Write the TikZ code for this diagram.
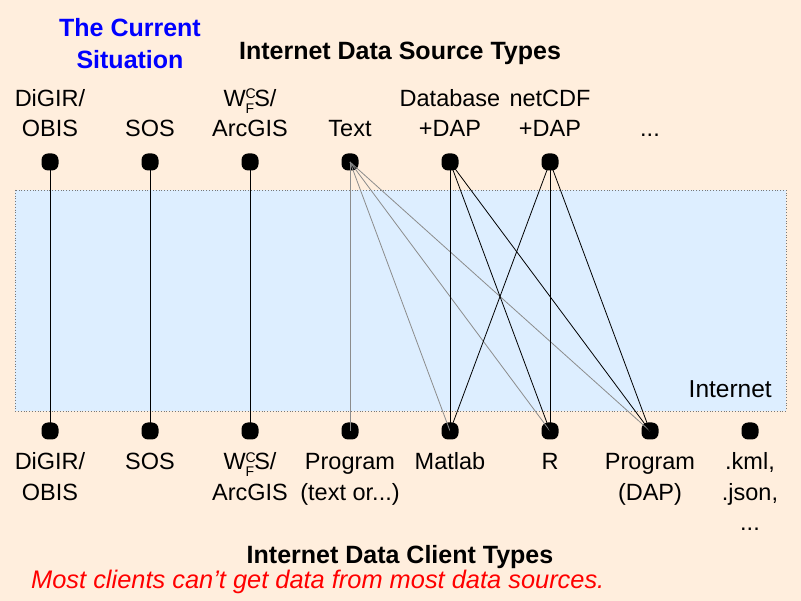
\documentclass[tikz,border=0pt]{standalone}
\usepackage{fontspec}
\setmainfont{Liberation Sans}
\definecolor{bgc}{RGB}{255,238,221}
\definecolor{bandc}{RGB}{221,238,255}
\definecolor{bandedge}{RGB}{120,120,120}
\definecolor{grayline}{RGB}{140,140,140}
\newcommand{\myfs}[2]{\fontsize{#1}{#2}\selectfont\setbox\strutbox\hbox{\vrule height 0.7\baselineskip depth 0.3\baselineskip width 0pt}}
\newcommand{\wcfs}{W\rlap{\raisebox{0.62ex}{\fontsize{14}{14}\selectfont C}}\raisebox{-0.55ex}{\fontsize{14}{14}\selectfont F}S/}
\begin{document}
\begin{tikzpicture}[x=1pt,y=-1pt,
  dot/.style={rectangle,rounded corners=6.5pt,fill=black,minimum size=17pt,inner sep=0pt},
  lab/.style={anchor=base,inner sep=0pt,font=\myfs{23.5}{30.5}},
  ttl/.style={anchor=base,inner sep=0pt,font=\myfs{25}{32}\bfseries},
  blk/.style={draw=black,line width=0.8pt},
  gry/.style={draw=grayline,line width=0.8pt}]
\fill[bgc] (0,0) rectangle (801,601);
\useasboundingbox (0,0) rectangle (801,601);
\filldraw[fill=bandc,draw=bandedge,dotted,line width=0.8pt] (15,190) rectangle (786,411);
% titles
\node[ttl,text=blue] (title) at (130,37) {\begin{tabular}[t]{@{}c@{}}The Current\\Situation\end{tabular}};
\node[ttl] (srctitle) at (400,60) {Internet Data Source Types};
\node[ttl] (clititle) at (400,563) {Internet Data Client Types};
\node[anchor=base west,inner sep=0pt,text=red,font=\myfs{25.4}{30}\itshape] (note) at (31,588) {Most clients can't get data from most data sources.};
\node[anchor=base east,inner sep=0pt,font=\myfs{24.5}{28}] (inet) at (772,398) {Internet};
% top labels
\node[lab] (tl1) at (50,137) {\begin{tabular}[b]{@{}c@{}}DiGIR/\\OBIS\end{tabular}};
\node[lab] (tl2) at (150,137) {SOS};
\node[lab] (tl3) at (250,137) {\begin{tabular}[b]{@{}c@{}}\wcfs\\ArcGIS\end{tabular}};
\node[lab] (tl4) at (350,137) {Text};
\node[lab] (tl5) at (450,137) {\begin{tabular}[b]{@{}c@{}}Database\\+DAP\end{tabular}};
\node[lab] (tl6) at (550,137) {\begin{tabular}[b]{@{}c@{}}netCDF\\+DAP\end{tabular}};
\node[lab] (tl7) at (650,137) {...};
% bottom labels
\node[lab] (bl1) at (50,470) {\begin{tabular}[t]{@{}c@{}}DiGIR/\\OBIS\end{tabular}};
\node[lab] (bl2) at (150,470) {SOS};
\node[lab] (bl3) at (250,470) {\begin{tabular}[t]{@{}c@{}}\wcfs\\ArcGIS\end{tabular}};
\node[lab] (bl4) at (350,470) {\begin{tabular}[t]{@{}c@{}}Program\\(text or...)\end{tabular}};
\node[lab] (bl5) at (450,470) {Matlab};
\node[lab] (bl6) at (550,470) {R};
\node[lab] (bl7) at (650,470) {\begin{tabular}[t]{@{}c@{}}Program\\(DAP)\end{tabular}};
\node[lab] (bl8) at (750,470) {\begin{tabular}[t]{@{}c@{}}.kml,\\.json,\\...\end{tabular}};
% dots
\foreach \i/\x in {1/50,2/150,3/250,4/350,5/450,6/550} {\node[dot] (s\i) at (\x,162) {};}
\foreach \i/\x in {1/50,2/150,3/250,4/350,5/450,6/550,7/650,8/750} {\node[dot] (c\i) at (\x,431) {};}
% connectors
\draw[blk] (s1.center) -- (c1.center);
\draw[blk] (s2.center) -- (c2.center);
\draw[blk] (s3.center) -- (c3.center);
\draw[gry] (s4.center) -- (c4.center);
\draw[gry] (s4.center) -- (c5.center);
\draw[gry] (s4.center) -- (c6.center);
\draw[gry] (s4.center) -- (c7.center);
\draw[blk] (s5.center) -- (c5.center);
\draw[blk] (s5.center) -- (c6.center);
\draw[blk] (s5.center) -- (c7.center);
\draw[blk] (s6.center) -- (c5.center);
\draw[blk] (s6.center) -- (c6.center);
\draw[blk] (s6.center) -- (c7.center);
\end{tikzpicture}
\end{document}
